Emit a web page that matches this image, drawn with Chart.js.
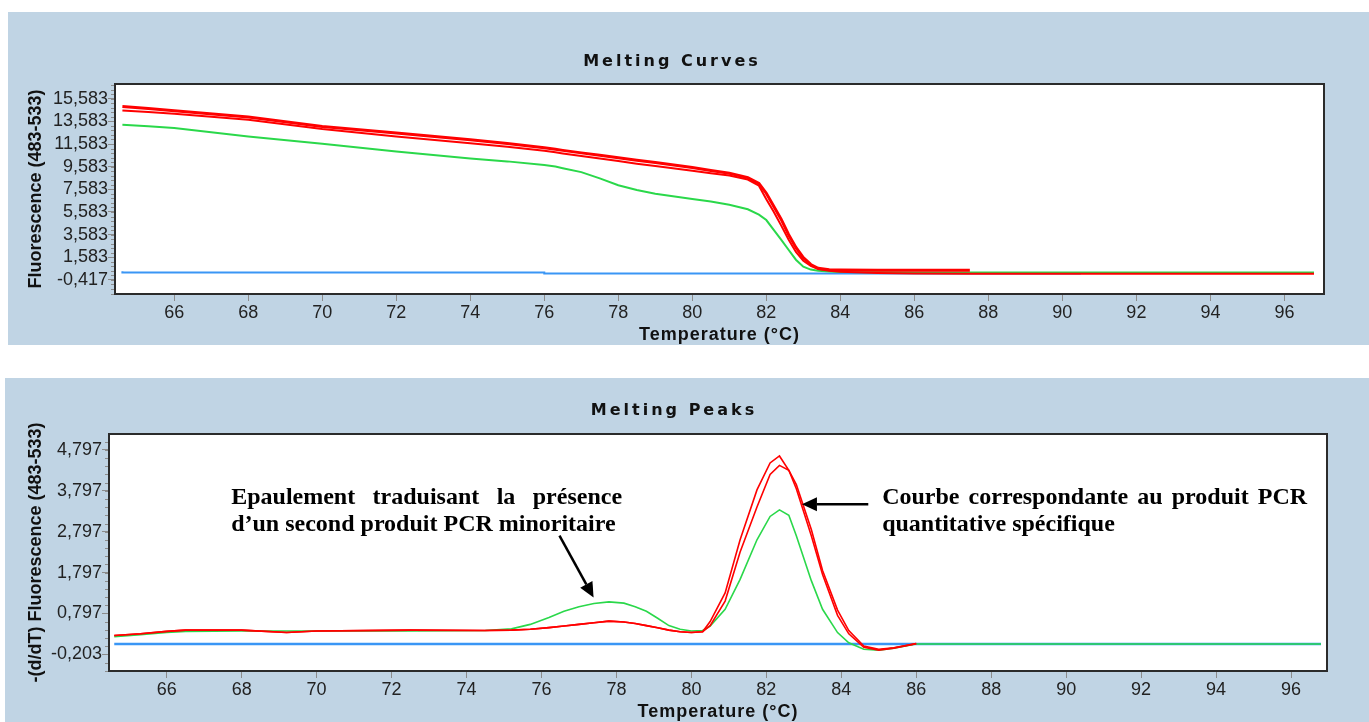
<!DOCTYPE html>
<html>
<head>
<meta charset="utf-8">
<script src="https://cdn.jsdelivr.net/npm/chart.js@4.4.0/dist/chart.umd.min.js"></script>
<style>
    html, body { margin: 0; padding: 0; background: #fff; }
    body { width: 1369px; height: 722px; position: relative; overflow: hidden; }
    .panel { position: absolute; background: #c0d4e4; }
    .panel canvas { display: block; }
    #top-panel { left: 8px; top: 12px; width: 1361px; height: 333px; }
    #bottom-panel { left: 5px; top: 378px; width: 1364px; height: 344px; }
</style>
</head>
<body>
<div class="panel" id="top-panel"><canvas id="curves" width="1361" height="333"></canvas></div>
<div class="panel" id="bottom-panel"><canvas id="peaks" width="1364" height="344"></canvas></div>
<script>
// ---- Melting curves (top) ----
const curveTemps = [64.6, 65.3, 66, 68, 70, 72, 74, 75, 76, 76.3, 76.5, 77, 77.5, 78, 78.5, 79, 80, 80.5, 81, 81.5, 81.8,
    82, 82.2, 82.4, 82.6, 82.8, 83, 83.2, 83.4, 83.7, 84, 85, 86, 87.5, 90.5, 92, 94, 96.8];
const curveRedA = [14.9, 14.72, 14.52, 13.96, 13.13, 12.55, 11.95, 11.62, 11.25, 11.12, 11.02, 10.8, 10.6, 10.38, 10.15, 9.95,
    9.5, 9.25, 9.0, 8.62, 8.1, 7.24, 6.1, 4.95, 3.6, 2.45, 1.55, 0.95, 0.62, 0.48, 0.46, 0.45, 0.45, 0.45, null, null, null, null];
const curveRedB = [14.55, 14.4, 14.25, 13.72, 12.9, 12.25, 11.66, 11.35, 10.98, 10.85, 10.75, 10.52, 10.3, 10.08, 9.85, 9.65,
    9.22, 9.0, 8.8, 8.45, 7.9, 6.7, 5.6, 4.4, 3.15, 2.05, 1.28, 0.82, 0.55, 0.4, 0.3, 0.2, 0.16, 0.14, 0.13, 0.13, 0.13, 0.13];
const curveGreen = [13.28, 13.15, 12.99, 12.25, 11.6, 10.92, 10.3, 10.05, 9.72, 9.6, 9.45, 9.1, 8.55, 7.95, 7.52, 7.2,
    6.72, 6.5, 6.22, 5.82, 5.35, 4.87, 4.0, 3.15, 2.25, 1.37, 0.75, 0.5, 0.4, 0.33, 0.28, 0.26, 0.25, 0.25, 0.25, 0.25, 0.25, 0.25];
const curveBlue = [0.36, 0.25, 0.25, 0.25, 0.25, 0.25, 0.25, 0.25, 0.25, 0.16, 0.16, 0.16, 0.16, 0.16, 0.16, 0.16,
    0.16, 0.16, 0.16, 0.16, 0.16, 0.16, 0.16, 0.16, 0.16, 0.16, 0.16, 0.16, 0.16, 0.16, 0.16, 0.16, 0.16, 0.16, 0.16, null, null, null];
const curveTicks = [-0.417, 1.583, 3.583, 5.583, 7.583, 9.583, 11.583, 13.583, 15.583];

// ---- Melting peaks (bottom) ----
const peakTemps = [64.6, 65.3, 66, 66.5, 68, 69.2, 70, 72.5, 74.5, 75.2, 75.7, 76.2, 76.6, 77, 77.4, 77.8, 78.2, 78.5, 78.8,
    79.1, 79.4, 79.7, 80, 80.3, 80.5, 80.9, 81.3, 81.75, 82.1, 82.35, 82.6, 82.8, 83.2, 83.5, 83.9, 84.2, 84.6, 85, 85.4, 86, 90, 96.8];
const peakRedA = [0.26, 0.3, 0.36, 0.39, 0.39, 0.33, 0.37, 0.39, 0.38, 0.39, 0.41, 0.45, 0.49, 0.53, 0.57, 0.61, 0.59, 0.55, 0.5,
    0.45, 0.39, 0.35, 0.33, 0.35, 0.6, 1.3, 2.6, 3.82, 4.48, 4.65, 4.3, 3.85, 2.7, 1.75, 0.75, 0.3, -0.03, -0.1, -0.05, 0.06, null, null];
const peakRedB = [0.26, 0.3, 0.36, 0.39, 0.39, 0.33, 0.37, 0.39, 0.38, 0.39, 0.41, 0.45, 0.49, 0.53, 0.57, 0.61, 0.59, 0.55, 0.5,
    0.45, 0.39, 0.35, 0.33, 0.35, 0.5, 1.1, 2.3, 3.4, 4.2, 4.42, 4.3, 3.95, 2.85, 1.85, 0.88, 0.38, 0.0, -0.08, -0.04, 0.06, null, null];
const peakGreen = [0.23, 0.28, 0.33, 0.36, 0.37, 0.37, 0.37, 0.37, 0.38, 0.42, 0.53, 0.7, 0.85, 0.96, 1.04, 1.08, 1.05, 0.96, 0.85,
    0.68, 0.5, 0.41, 0.37, 0.38, 0.49, 0.9, 1.63, 2.6, 3.17, 3.33, 3.2, 2.7, 1.6, 0.9, 0.33, 0.08, -0.08, -0.1, -0.05, 0.05, 0.05, 0.05];
const peakBlue = peakTemps.map(() => 0.05);
const peakTicks = [-0.203, 0.797, 1.797, 2.797, 3.797, 4.797];

const tempTicks = [66, 68, 70, 72, 74, 76, 78, 80, 82, 84, 86, 88, 90, 92, 94, 96];

const RED = '#ff0000', GREEN = '#2ad84a', BLUE = '#3a96f5';
const tickFont = { family: '"Liberation Sans", Arial, sans-serif', size: 18 };

function series(temps, values) {
    return temps.map((t, i) => ({ x: t, y: values[i] }));
}

function fmt(v) {
    return v.toFixed(3).replace('.', ',');
}

// white plot area, frame, minor ticks, titles and notes
const decor = {
    id: 'decor',
    beforeDatasetsDraw(chart) {
        const ctx = chart.ctx, a = chart.chartArea;
        ctx.save();
        ctx.fillStyle = '#fff';
        ctx.fillRect(a.left, a.top, a.right - a.left, a.bottom - a.top);
        ctx.restore();
    },
    afterDraw(chart, args, o) {
        const ctx = chart.ctx, a = chart.chartArea, ys = chart.scales.y, xs = chart.scales.x;
        ctx.save();

        // minor ticks on the value axis
        ctx.strokeStyle = '#8c8c8c';
        ctx.lineWidth = 1;
        const first = o.majors[0];
        let v = first - Math.floor((first - ys.min) / o.minorStep) * o.minorStep;
        for (; v <= ys.max; v += o.minorStep) {
            const py = Math.round(ys.getPixelForValue(v)) + 0.5;
            ctx.beginPath();
            ctx.moveTo(a.left - 4, py);
            ctx.lineTo(a.left, py);
            ctx.stroke();
        }

        // plot box
        ctx.strokeStyle = '#2b2b2b';
        ctx.lineWidth = 2;
        ctx.strokeRect(a.left, a.top, a.right - a.left, a.bottom - a.top);

        // chart title
        ctx.fillStyle = '#111';
        ctx.textBaseline = 'middle';
        ctx.textAlign = 'center';
        ctx.font = 'bold 16px "DejaVu Sans", Verdana, sans-serif';
        ctx.letterSpacing = '3px';
        ctx.fillText(o.title, o.titleX, o.titleY);

        // axis titles
        ctx.font = 'bold 18px "Liberation Sans", Arial, sans-serif';
        ctx.letterSpacing = '1px';
        ctx.fillText('Temperature (°C)', (a.left + a.right) / 2, o.xTitleY);
        ctx.letterSpacing = '0px';
        ctx.save();
        ctx.translate(o.yTitleX, (a.top + a.bottom) / 2);
        ctx.rotate(-Math.PI / 2);
        ctx.fillText(o.yTitle, 0, 0);
        ctx.restore();

        // annotations
        (o.notes || []).forEach(n => {
            ctx.font = 'bold 24px "Liberation Serif", "Times New Roman", serif';
            ctx.textAlign = 'left';
            ctx.textBaseline = 'alphabetic';
            ctx.fillStyle = '#000';
            const x0 = xs.getPixelForValue(n.left), x1 = xs.getPixelForValue(n.right);
            const words = n.lines[0].split(' ');
            const used = words.reduce((s, w) => s + ctx.measureText(w).width, 0);
            const gap = (x1 - x0 - used) / (words.length - 1);
            let x = x0;
            words.forEach(w => {
                ctx.fillText(w, x, ys.getPixelForValue(n.base1));
                x += ctx.measureText(w).width + gap;
            });
            ctx.fillText(n.lines[1], x0, ys.getPixelForValue(n.base2));
        });
        (o.arrows || []).forEach(r => {
            const fx = xs.getPixelForValue(r.from[0]), fy = ys.getPixelForValue(r.from[1]);
            const tx = xs.getPixelForValue(r.to[0]), ty = ys.getPixelForValue(r.to[1]);
            const ang = Math.atan2(ty - fy, tx - fx);
            const hl = 15, hw = 7;
            const bx = tx - hl * Math.cos(ang), by = ty - hl * Math.sin(ang);
            ctx.strokeStyle = '#000';
            ctx.lineWidth = 2.5;
            ctx.beginPath();
            ctx.moveTo(fx, fy);
            ctx.lineTo(bx, by);
            ctx.stroke();
            ctx.fillStyle = '#000';
            ctx.beginPath();
            ctx.moveTo(tx, ty);
            ctx.lineTo(bx + hw * Math.sin(ang), by - hw * Math.cos(ang));
            ctx.lineTo(bx - hw * Math.sin(ang), by + hw * Math.cos(ang));
            ctx.closePath();
            ctx.fill();
        });
        ctx.restore();
    }
};

function makeChart(id, cfg) {
    return new Chart(document.getElementById(id).getContext('2d'), {
        type: 'line',
        data: { datasets: cfg.datasets },
        options: {
            responsive: false,
            animation: false,
            layout: { padding: cfg.padding },
            elements: { point: { radius: 0 }, line: { tension: 0 } },
            plugins: {
                legend: { display: false },
                tooltip: { enabled: false },
                decor: cfg.decor
            },
            scales: {
                x: {
                    type: 'linear',
                    min: cfg.xMin,
                    max: cfg.xMax,
                    afterBuildTicks: s => { s.ticks = tempTicks.map(v => ({ value: v })); },
                    afterFit: s => { s.height = 51; },
                    grid: { drawOnChartArea: false, tickLength: 7, tickColor: '#8c8c8c' },
                    border: { display: false },
                    ticks: { font: tickFont, color: '#222', padding: 1, maxRotation: 0, autoSkip: false, callback: v => String(v) }
                },
                y: {
                    type: 'linear',
                    min: cfg.yMin,
                    max: cfg.yMax,
                    afterBuildTicks: s => { s.ticks = cfg.yTicks.map(v => ({ value: v })); },
                    afterFit: s => { s.width = cfg.yWidth; },
                    grid: { drawOnChartArea: false, tickLength: 7, tickColor: '#8c8c8c' },
                    border: { display: false },
                    ticks: { font: tickFont, color: '#222', padding: 0, autoSkip: false, callback: v => fmt(v) }
                }
            }
        },
        plugins: [decor]
    });
}

makeChart('curves', {
    padding: { top: 72, right: 45, bottom: 0, left: 0 },
    yWidth: 107,
    xMin: 64.4, xMax: 97.07,
    yMin: -1.656, yMax: 16.88,
    yTicks: curveTicks,
    datasets: [
        { data: series(curveTemps, curveRedA), borderColor: RED, borderWidth: 3 },
        { data: series(curveTemps, curveRedB), borderColor: RED, borderWidth: 2 },
        { data: series(curveTemps, curveGreen), borderColor: GREEN, borderWidth: 2 },
        { data: series(curveTemps, curveBlue), borderColor: BLUE, borderWidth: 2, stepped: 'after' }
    ],
    decor: {
        majors: curveTicks, minorStep: 0.4,
        title: 'Melting Curves', titleX: 664, titleY: 50,
        xTitleY: 323, yTitleX: 28,
        yTitle: 'Fluorescence (483-533)'
    }
});

makeChart('peaks', {
    padding: { top: 56, right: 42, bottom: 0, left: 0 },
    yWidth: 104,
    xMin: 64.46, xMax: 96.96,
    yMin: -0.61, yMax: 5.187,
    yTicks: peakTicks,
    datasets: [
        { data: series(peakTemps, peakRedA), borderColor: RED, borderWidth: 1.6 },
        { data: series(peakTemps, peakRedB), borderColor: RED, borderWidth: 1.6 },
        { data: series(peakTemps, peakGreen), borderColor: GREEN, borderWidth: 1.6 },
        { data: series(peakTemps, peakBlue), borderColor: BLUE, borderWidth: 2.5 }
    ],
    decor: {
        majors: peakTicks, minorStep: 0.2,
        title: 'Melting Peaks', titleX: 669, titleY: 33,
        xTitleY: 334, yTitleX: 31,
        yTitle: '-(d/dT) Fluorescence (483-533)',
        notes: [
            { lines: ['Epaulement traduisant la présence', 'd’un second produit PCR minoritaire'], left: 67.72, right: 78.15, base1: 3.48, base2: 2.81 },
            { lines: ['Courbe correspondante au produit PCR', 'quantitative spécifique'], left: 85.09, right: 96.43, base1: 3.48, base2: 2.81 }
        ],
        arrows: [
            { from: [76.48, 2.70], to: [77.39, 1.19] },
            { from: [84.72, 3.47], to: [82.95, 3.47] }
        ]
    }
});
</script>
</body>
</html>
